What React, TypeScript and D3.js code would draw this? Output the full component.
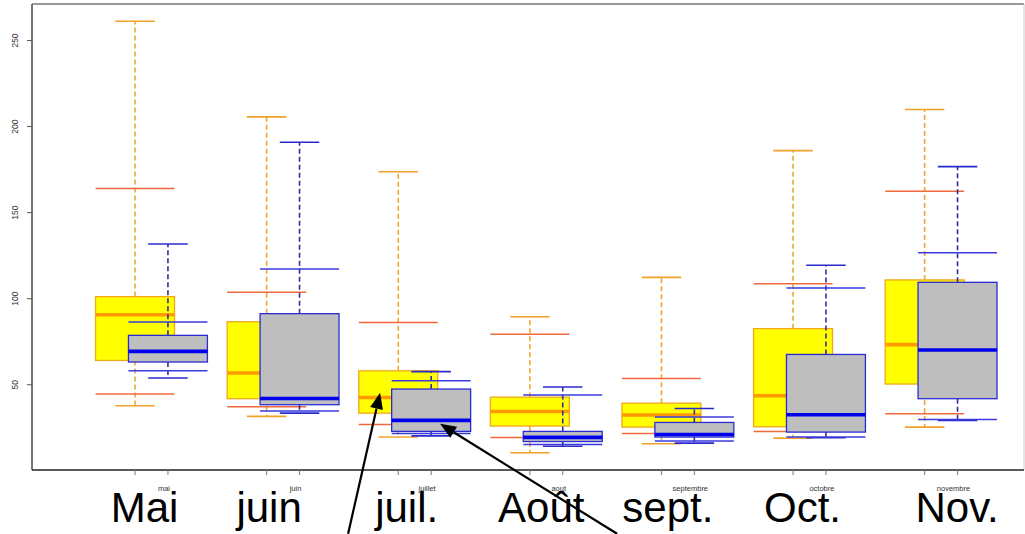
import React from "react";
import * as d3 from "d3";

const months = ["mai", "juin", "juillet", "aout", "septembre", "octobre", "novembre"];
const bigLabels = ["Mai", "juin", "juil.", "Août", "sept.", "Oct.", "Nov."];
const yTicks = [50, 100, 150, 200, 250];

// yellow series: [min, low line, q1, median, q3, high line, max]
const yellowMin = [37.8, 31.6, 19.6, 10.5, 15.7, 19.0, 25.4];
const yellowLow = [44.6, 37.2, 26.9, 19.4, 21.7, 22.9, 33.1];
const yellowQ1 = [64.1, 41.9, 33.5, 26.0, 25.4, 25.6, 50.4];
const yellowMed = [90.7, 56.8, 42.6, 34.5, 32.4, 43.6, 73.3];
const yellowQ3 = [101.2, 86.6, 58.1, 42.8, 39.3, 82.6, 110.9];
const yellowHigh = [164.0, 103.7, 86.2, 79.3, 53.7, 108.7, 162.4];
const yellowMax = [261.2, 205.6, 173.7, 89.5, 112.4, 186.0, 209.9];

// grey series
const greyMin = [53.9, 33.5, 20.3, 14.3, 16.1, 19.2, 29.2];
const greyLow = [58.1, 34.7, 21.7, 15.3, 17.3, 19.6, 29.8];
const greyQ1 = [63.2, 38.4, 22.9, 17.0, 19.6, 22.5, 41.9];
const greyMed = [69.4, 42.0, 29.3, 19.4, 21.1, 32.6, 70.2];
const greyQ3 = [78.7, 91.3, 47.5, 22.9, 28.1, 67.6, 109.5];
const greyHigh = [86.5, 117.3, 52.3, 44.0, 31.2, 106.2, 126.7];
const greyMax = [131.8, 190.9, 57.6, 48.7, 36.2, 119.4, 176.7];

// annotation arrows: [tailPos, tailValue, tipPos, tipValue]
const arrows = [
  [2.619, -36.6, 2.862, 45.3],
  [4.663, -36.6, 3.318, 27.3],
];

const W = 1025;
const H = 534;
const PL = 32, PR = 1024, PT = 4, PB = 470;

const x = d3.scaleLinear().domain([0.217, 7.755]).range([PL, PR]);
const y = d3.scaleLinear().domain([0.47, 271.2]).range([PB, PT]);

const BOX_HALF = 0.3;
const CAP_HALF = 0.15;
const GREY_OFF = 0.25;

type Style = {
  fill: string; boxStroke: string; med: string; whisk: string; cap: string; extra: string;
};

const yellowStyle: Style = {
  fill: "#FFFF00", boxStroke: "#EFA81A", med: "#FF9A00", whisk: "#F0A830", cap: "#F2A22A", extra: "#EE6A3C",
};
const greyStyle: Style = {
  fill: "#BEBEBE", boxStroke: "#2B2BD6", med: "#0000EE", whisk: "#30309A", cap: "#2A2ACC", extra: "#3A3AE0",
};

function Box({ p, mn, lo, q1, md, q3, hi, mx, s }: any) {
  const x0 = x(p - BOX_HALF), x1 = x(p + BOX_HALF);
  const c0 = x(p - CAP_HALF), c1 = x(p + CAP_HALF);
  const xc = x(p);
  return (
    <g>
      <line x1={xc} x2={xc} y1={y(q3)} y2={y(mx)} stroke={s.whisk} strokeWidth={1.6} strokeDasharray="5,3" />
      <line x1={xc} x2={xc} y1={y(q1)} y2={y(mn)} stroke={s.whisk} strokeWidth={1.6} strokeDasharray="5,3" />
      <line x1={c0} x2={c1} y1={y(mx)} y2={y(mx)} stroke={s.cap} strokeWidth={1.6} />
      <line x1={c0} x2={c1} y1={y(mn)} y2={y(mn)} stroke={s.cap} strokeWidth={1.6} />
      <rect x={x0} y={y(q3)} width={x1 - x0} height={y(q1) - y(q3)} fill={s.fill} stroke={s.boxStroke} strokeWidth={1.3} />
      <line x1={x0} x2={x1} y1={y(md)} y2={y(md)} stroke={s.med} strokeWidth={3.6} />
      <line x1={x0} x2={x1} y1={y(hi)} y2={y(hi)} stroke={s.extra} strokeWidth={1.5} />
      <line x1={x0} x2={x1} y1={y(lo)} y2={y(lo)} stroke={s.extra} strokeWidth={1.5} />
    </g>
  );
}

function Arrow({ a }: { a: number[] }) {
  const tx = x(a[0]), ty = y(a[1]), hx = x(a[2]), hy = y(a[3]);
  const ang = Math.atan2(hy - ty, hx - tx);
  const L = 16, Wd = 6.5;
  const bx = hx - L * Math.cos(ang), by = hy - L * Math.sin(ang);
  const px = -Math.sin(ang) * Wd, py = Math.cos(ang) * Wd;
  const pts = `${hx},${hy} ${bx + px},${by + py} ${bx - px},${by - py}`;
  return (
    <g>
      <line x1={tx} y1={ty} x2={bx} y2={by} stroke="#000" strokeWidth={2.2} />
      <polygon points={pts} fill="#000" />
    </g>
  );
}

export default function App() {
  const idx = d3.range(months.length);
  return (
    <svg width={W} height={H} style={{ position: "absolute", left: 0, top: 0, background: "#fff" }}
      fontFamily="'Liberation Sans', Arial, sans-serif">
      <rect x={0} y={0} width={W} height={H} fill="#fff" />
      {idx.map((i) => (
        <Box key={"y" + i} p={i + 1} mn={yellowMin[i]} lo={yellowLow[i]} q1={yellowQ1[i]} md={yellowMed[i]}
          q3={yellowQ3[i]} hi={yellowHigh[i]} mx={yellowMax[i]} s={yellowStyle} />
      ))}
      {idx.map((i) => (
        <Box key={"g" + i} p={i + 1 + GREY_OFF} mn={greyMin[i]} lo={greyLow[i]} q1={greyQ1[i]} md={greyMed[i]}
          q3={greyQ3[i]} hi={greyHigh[i]} mx={greyMax[i]} s={greyStyle} />
      ))}
      {/* frame */}
      <line x1={PL} x2={PR} y1={PT} y2={PT} stroke="#777" strokeWidth={1.6} />
      <line x1={PR} x2={PR} y1={PT} y2={PB} stroke="#ccc" strokeWidth={1} />
      <line x1={PL} x2={PL} y1={PT} y2={PB} stroke="#555" strokeWidth={1.6} />
      <line x1={PL} x2={PR} y1={PB} y2={PB} stroke="#222" strokeWidth={1.4} />
      {/* y axis */}
      {yTicks.map((t) => (
        <g key={t}>
          <line x1={PL - 5} x2={PL} y1={y(t)} y2={y(t)} stroke="#555" strokeWidth={1} />
          <text transform={`translate(18,${y(t)}) rotate(-90)`} textAnchor="middle" fontSize={8.5} fill="#333">{t}</text>
        </g>
      ))}
      {/* x ticks */}
      {idx.map((i) => (
        <g key={"t" + i}>
          <line x1={x(i + 1)} x2={x(i + 1)} y1={PB} y2={PB + 5} stroke="#777" strokeWidth={1} />
          <line x1={x(i + 1 + GREY_OFF)} x2={x(i + 1 + GREY_OFF)} y1={PB} y2={PB + 5} stroke="#777" strokeWidth={1} />
          <text x={x(i + 1 + GREY_OFF) - 4} y={491} textAnchor="middle" fontSize={7.5} fill="#333">{months[i]}</text>
        </g>
      ))}
      {/* big labels */}
      {idx.map((i) => (
        <text key={"b" + i} x={x(i + 1 + GREY_OFF / 2) + [-7, -14, -8, -5, -10, -7, 16][i]} y={522}
          textAnchor="middle" fontSize={42} fill="#000">{bigLabels[i]}</text>
      ))}
      {arrows.map((a, i) => <Arrow key={"a" + i} a={a} />)}
    </svg>
  );
}
